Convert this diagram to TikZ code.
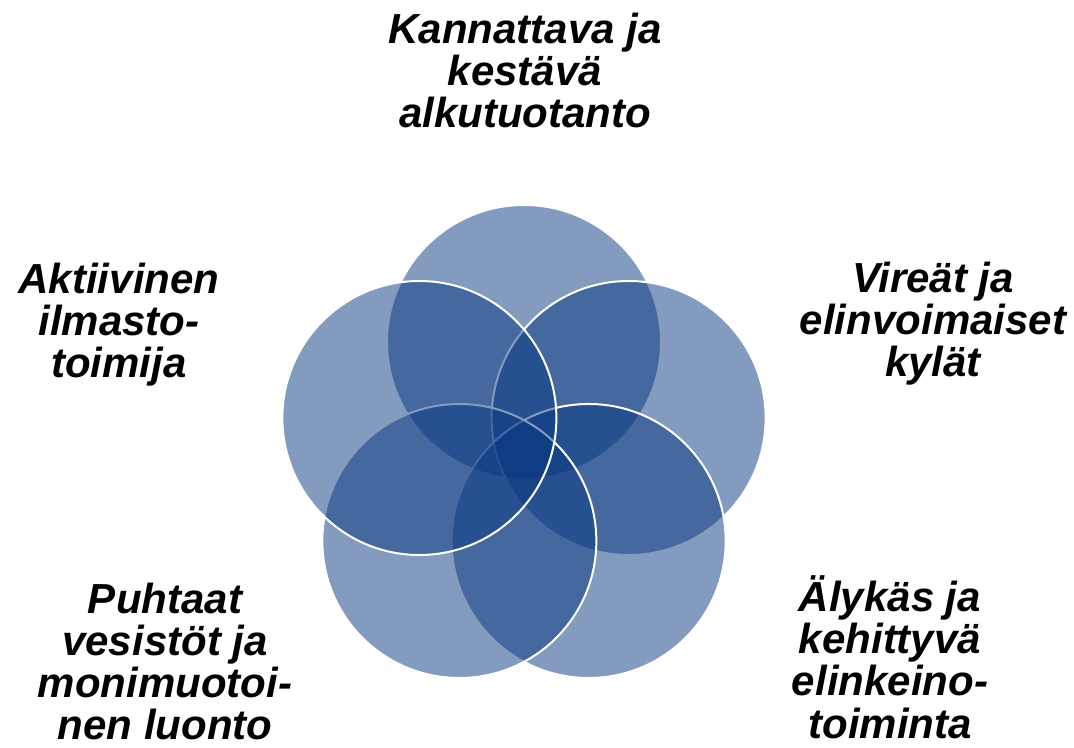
\documentclass[tikz,border=0pt]{standalone}
\usepackage{fontspec}
\setmainfont{Liberation Sans}
\usetikzlibrary{calc}
\definecolor{venn}{RGB}{8,56,128}
\tikzset{
    ring/.style={
      circle,
      minimum size=137pt,
      inner sep=0pt, outer sep=0pt,
      fill=venn, fill opacity=0.5,
      draw=white, line width=1pt},
    goal/.style={
      font=\fontsize{21}{21}\selectfont\bfseries\itshape,
      align=center,
      anchor=base,
      inner sep=0pt},
}

\begin{document}
\begin{tikzpicture}[x=0.5pt,y=0.5pt]

  \useasboundingbox (0,0) rectangle (1074,748);
  \coordinate (mid) at (524,296);

  %% Draw Circles (clockwise from the top)
  \foreach \a/\n in {90/top,
                     18/right,
                     -54/lowright,
                     -126/lowleft,
                     162/left
                     }{
    \node[ring] (\n) at ($(mid)+(\a:110)$) {};
  }

  %% Draw Texts (placed at the baseline of the last line)
  \node[goal] (ttop) at (525,620) {Kannattava ja\\kestävä\\alkutuotanto};
  \node[goal] (tright) at (933,371) {Vireät ja\\elinvoimaiset\\kylät};
  \node[goal] (tlowright) at (890,10) {Älykäs ja\\kehittyvä\\elinkeino-\\toiminta};
  \node[goal] (tlowleft) at (165,8) {Puhtaat\\vesistöt ja\\monimuotoi-\\nen luonto};
  \node[goal] (tleft) at (119,370) {Aktiivinen\\ilmasto-\\toimija};

\end{tikzpicture}
\end{document}
